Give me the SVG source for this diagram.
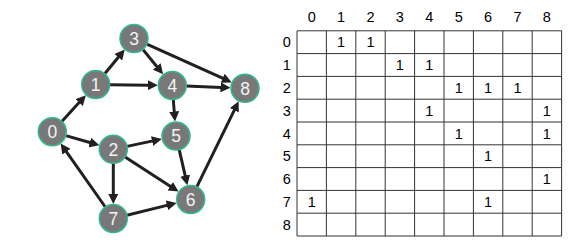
<svg xmlns="http://www.w3.org/2000/svg" width="578" height="247" viewBox="0 0 578 247">
<style>
.node circle{fill:#787878;stroke:#2fb892;stroke-width:1.5}
.node text{fill:#f4f4f4;font-family:"Liberation Sans",Arial,sans-serif;font-size:17.5px;text-anchor:middle}
.edge{stroke:#231f20;stroke-width:3;fill:none;marker-end:url(#arr)}
.grid line{stroke:#333;stroke-width:1}
.lbl{font-family:"Liberation Sans",Arial,sans-serif;font-size:14.5px;text-anchor:middle;fill:#000}
</style>
<defs>
<marker id="arr" markerUnits="userSpaceOnUse" markerWidth="10" markerHeight="10" refX="1" refY="5" orient="auto">
<path d="M0,0 L10,5 L0,10 z" fill="#231f20"/>
</marker>
</defs>
<rect width="578" height="247" fill="#fff"/>
<g id="connectors">
<line class="edge" x1="61.8" y1="121.4" x2="79.8" y2="101.8"/>
<line class="edge" x1="65.8" y1="135.6" x2="90.7" y2="142.8"/>
<line class="edge" x1="104.7" y1="73.7" x2="119.0" y2="56.5"/>
<line class="edge" x1="109.7" y1="84.7" x2="148.8" y2="85.2"/>
<line class="edge" x1="142.8" y1="49.4" x2="157.4" y2="67.3"/>
<line class="edge" x1="146.8" y1="44.2" x2="223.6" y2="78.7"/>
<line class="edge" x1="186.3" y1="86.0" x2="221.5" y2="87.4"/>
<line class="edge" x1="173.3" y1="99.5" x2="174.3" y2="112.5"/>
<line class="edge" x1="127" y1="146.4" x2="153.0" y2="140.9"/>
<line class="edge" x1="125.1" y1="156.9" x2="171.0" y2="186.7"/>
<line class="edge" x1="113.3" y1="163.3" x2="113.3" y2="195.0"/>
<line class="edge" x1="179.2" y1="149.6" x2="185.4" y2="176.6"/>
<line class="edge" x1="126.9" y1="215.2" x2="167.9" y2="205.1"/>
<line class="edge" x1="105.3" y1="207.0" x2="65.8" y2="150.9"/>
<line class="edge" x1="196.8" y1="186.9" x2="234.7" y2="109.4"/>
</g>
<g id="node0" class="node"><circle cx="52.3" cy="131.7" r="14"/><text x="52.3" y="137.9">0</text></g>
<g id="node1" class="node"><circle cx="95.7" cy="84.5" r="14"/><text x="95.7" y="90.7">1</text></g>
<g id="node2" class="node"><circle cx="113.3" cy="149.3" r="14"/><text x="113.3" y="155.5">2</text></g>
<g id="node3" class="node"><circle cx="134" cy="38.5" r="14"/><text x="134" y="44.7">3</text></g>
<g id="node4" class="node"><circle cx="172.3" cy="85.5" r="14"/><text x="172.3" y="91.7">4</text></g>
<g id="node5" class="node"><circle cx="176" cy="136" r="14"/><text x="176" y="142.2">5</text></g>
<g id="node6" class="node"><circle cx="190.7" cy="199.5" r="14"/><text x="190.7" y="205.7">6</text></g>
<g id="node7" class="node"><circle cx="113.3" cy="218.5" r="14"/><text x="113.3" y="224.7">7</text></g>
<g id="node8" class="node"><circle cx="245" cy="88.3" r="14"/><text x="245" y="94.5">8</text></g>
<g id="matrix">
<g class="grid">
<line x1="297" y1="30.8" x2="297" y2="236"/>
<line x1="326.4" y1="30.8" x2="326.4" y2="236"/>
<line x1="355.8" y1="30.8" x2="355.8" y2="236"/>
<line x1="385.2" y1="30.8" x2="385.2" y2="236"/>
<line x1="414.6" y1="30.8" x2="414.6" y2="236"/>
<line x1="444" y1="30.8" x2="444" y2="236"/>
<line x1="473.4" y1="30.8" x2="473.4" y2="236"/>
<line x1="502.8" y1="30.8" x2="502.8" y2="236"/>
<line x1="532.2" y1="30.8" x2="532.2" y2="236"/>
<line x1="561.6" y1="30.8" x2="561.6" y2="236"/>
<line x1="297" y1="30.8" x2="561.6" y2="30.8"/>
<line x1="297" y1="53.6" x2="561.6" y2="53.6"/>
<line x1="297" y1="76.4" x2="561.6" y2="76.4"/>
<line x1="297" y1="99.2" x2="561.6" y2="99.2"/>
<line x1="297" y1="122" x2="561.6" y2="122"/>
<line x1="297" y1="144.8" x2="561.6" y2="144.8"/>
<line x1="297" y1="167.6" x2="561.6" y2="167.6"/>
<line x1="297" y1="190.4" x2="561.6" y2="190.4"/>
<line x1="297" y1="213.2" x2="561.6" y2="213.2"/>
<line x1="297" y1="236" x2="561.6" y2="236"/>
</g>
<g class="lbl">
<text x="311.7" y="21.8">0</text>
<text x="341.1" y="21.8">1</text>
<text x="370.5" y="21.8">2</text>
<text x="399.9" y="21.8">3</text>
<text x="429.3" y="21.8">4</text>
<text x="458.7" y="21.8">5</text>
<text x="488.1" y="21.8">6</text>
<text x="517.5" y="21.8">7</text>
<text x="546.9" y="21.8">8</text>
<text x="286.7" y="47.4">0</text>
<text x="286.7" y="70.2">1</text>
<text x="286.7" y="93">2</text>
<text x="286.7" y="115.8">3</text>
<text x="286.7" y="138.6">4</text>
<text x="286.7" y="161.4">5</text>
<text x="286.7" y="184.2">6</text>
<text x="286.7" y="207">7</text>
<text x="286.7" y="229.8">8</text>
<text x="341.1" y="47.4">1</text>
<text x="370.5" y="47.4">1</text>
<text x="399.9" y="70.2">1</text>
<text x="429.3" y="70.2">1</text>
<text x="458.7" y="93">1</text>
<text x="488.1" y="93">1</text>
<text x="517.5" y="93">1</text>
<text x="429.3" y="115.8">1</text>
<text x="546.9" y="115.8">1</text>
<text x="458.7" y="138.6">1</text>
<text x="546.9" y="138.6">1</text>
<text x="488.1" y="161.4">1</text>
<text x="546.9" y="184.2">1</text>
<text x="311.7" y="207">1</text>
<text x="488.1" y="207">1</text>
</g>
</g>
</svg>
